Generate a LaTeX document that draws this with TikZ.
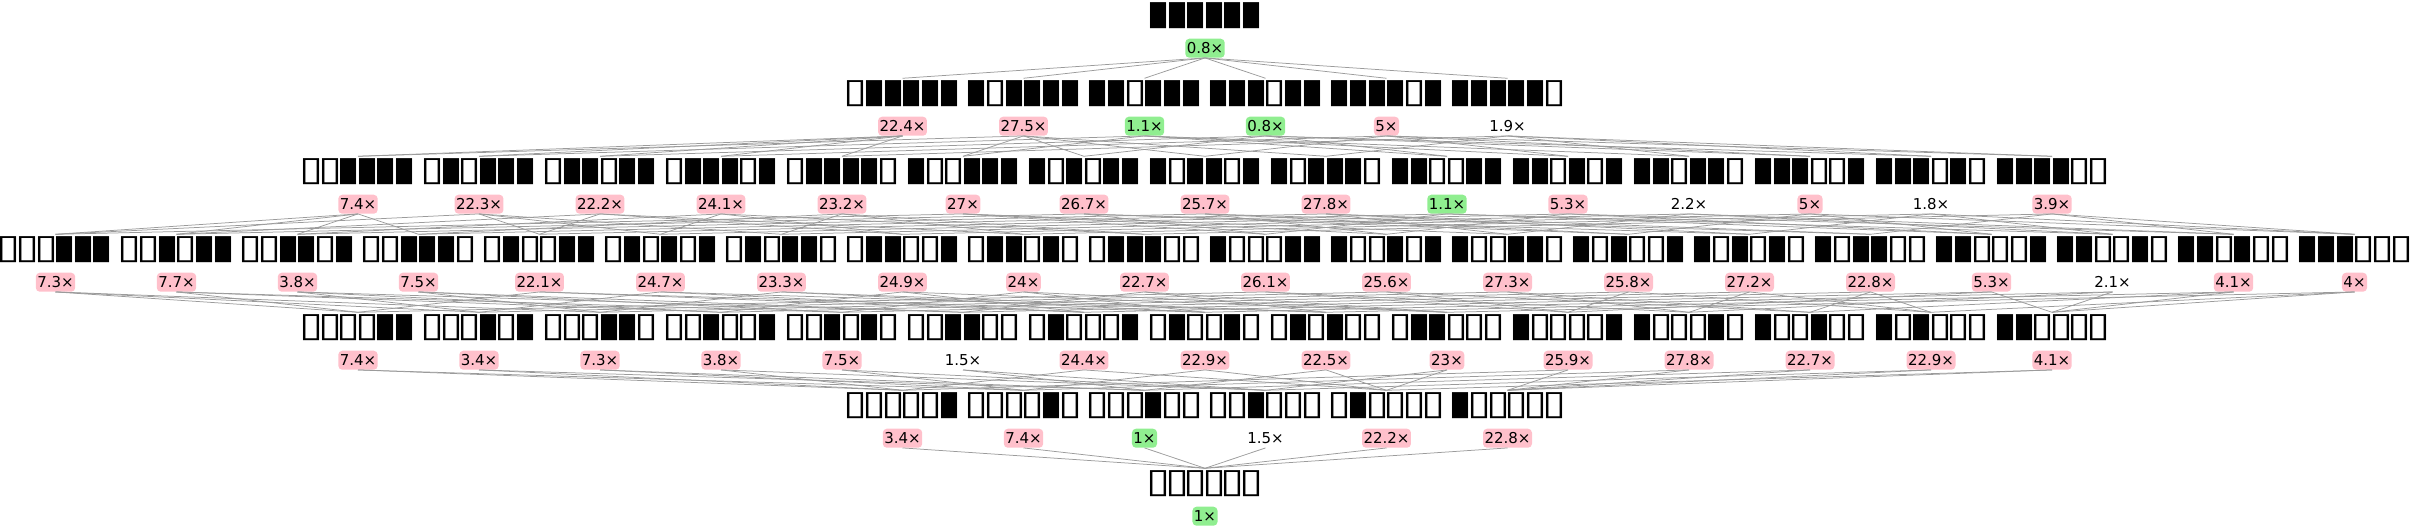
\documentclass[tikz,border=0pt]{standalone}
\usepackage{fontspec}
\setmainfont{DejaVu Sans}
\newfontfamily\cellfont[FakeStretch=1.28]{DejaVu Sans}
\usetikzlibrary{positioning}
\definecolor{SlowPink}{RGB}{255,192,203}
\definecolor{FastGreen}{RGB}{144,238,144}
\definecolor{LinkGray}{RGB}{155,155,155}

% one glyph per flag: 1 = filled, 0 = empty
\newcommand\showbits[1]{\expandafter\showbitsA#1\relax}
\def\showbitsA#1{\ifx#1\relax\else\kern-2.7pt\ifx#11▮\else▯\fi\kern-2.7pt\expandafter\showbitsA\fi}

\tikzset{
  cell/.style={inner xsep=1pt, inner ysep=2.5pt, font=\cellfont\fontsize{34.1}{34.1}\selectfont},
  ratio/.style={rounded corners=4pt, inner xsep=1.5pt, inner ysep=0pt, minimum height=19pt, font=\fontsize{15}{15}\selectfont},
  bad/.style={fill=SlowPink},
  good/.style={fill=FastGreen},
  plain/.style={},
  link/.style={draw=LinkGray, line width=0.75pt}
}

% #1 row, #2 nodes in row, #3 flags/value/kind
\newcommand\placerow[3]{%
  \foreach \bits/\val/\kind [count=\i] in {#3} {
    \pgfmathtruncatemacro\v{0b\bits}
    \node[cell] (n\v) at ({1205+121*(\i-(#2+1)/2)}, {16+78*#1}) {\showbits{\bits}};
    \node[ratio, \kind, below=6.8pt of n\v] (r\v) {\val×};
  }}

\begin{document}
\begin{tikzpicture}[x=1pt, y=-1pt]
  \useasboundingbox (0,0) rectangle (2410,531);

  % Nodes
  \placerow{0}{1}{111111/0.8/good}
  \placerow{1}{6}{011111/22.4/bad, 101111/27.5/bad, 110111/1.1/good, 111011/0.8/good, 111101/5/bad, 111110/1.9/plain}
  \placerow{2}{15}{001111/7.4/bad, 010111/22.3/bad, 011011/22.2/bad, 011101/24.1/bad, 011110/23.2/bad,
    100111/27/bad, 101011/26.7/bad, 101101/25.7/bad, 101110/27.8/bad, 110011/1.1/good,
    110101/5.3/bad, 110110/2.2/plain, 111001/5/bad, 111010/1.8/plain, 111100/3.9/bad}
  \placerow{3}{20}{000111/7.3/bad, 001011/7.7/bad, 001101/3.8/bad, 001110/7.5/bad, 010011/22.1/bad,
    010101/24.7/bad, 010110/23.3/bad, 011001/24.9/bad, 011010/24/bad, 011100/22.7/bad,
    100011/26.1/bad, 100101/25.6/bad, 100110/27.3/bad, 101001/25.8/bad, 101010/27.2/bad,
    101100/22.8/bad, 110001/5.3/bad, 110010/2.1/plain, 110100/4.1/bad, 111000/4/bad}
  \placerow{4}{15}{000011/7.4/bad, 000101/3.4/bad, 000110/7.3/bad, 001001/3.8/bad, 001010/7.5/bad,
    001100/1.5/plain, 010001/24.4/bad, 010010/22.9/bad, 010100/22.5/bad, 011000/23/bad,
    100001/25.9/bad, 100010/27.8/bad, 100100/22.7/bad, 101000/22.9/bad, 110000/4.1/bad}
  \placerow{5}{6}{000001/3.4/bad, 000010/7.4/bad, 000100/1/good, 001000/1.5/plain, 010000/22.2/bad, 100000/22.8/bad}
  \placerow{6}{1}{000000/1/good}

  % Links: clear one flag to step down a row
  \foreach \v in {1,...,63} {
    \foreach \k in {0,...,5} {
      \pgfmathtruncatemacro\b{mod(floor(\v/2^\k),2)}
      \ifnum\b=1
        \pgfmathtruncatemacro\c{\v-2^\k}
        \draw[link] (r\v.south) -- (n\c.north);
      \fi
    }
  }
\end{tikzpicture}
\end{document}
